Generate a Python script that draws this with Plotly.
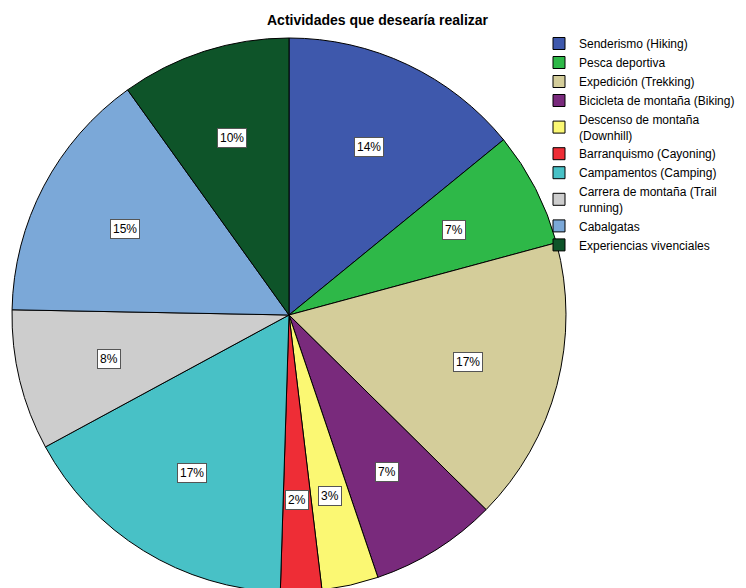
import math
import plotly.graph_objects as go

labels = [
    "Senderismo (Hiking)",
    "Pesca deportiva",
    "Expedición (Trekking)",
    "Bicicleta de montaña (Biking)",
    "Descenso de montaña<br>(Downhill)",
    "Barranquismo (Cayoning)",
    "Campamentos (Camping)",
    "Carrera de montaña (Trail<br>running)",
    "Cabalgatas",
    "Experiencias vivenciales",
]
values = [14.1, 6.7, 16.6, 7.4, 3.3, 2.4, 16.6, 8.2, 14.8, 9.9]
colors = ["#3E58AC", "#2EB848", "#D4CD9A", "#792A7C", "#FBF873",
          "#EE2D36", "#48C1C6", "#CDCDCD", "#7BA8D8", "#0E5429"]

W, H = 746, 588
OFF = 8  # page body margin offset
cx, cy, R = 289 - OFF, 315 - OFF, 277  # pie centre / radius in figure pixels

dom_x = [(cx - R) / W, (cx + R) / W]
dom_y = [max(0, (H - cy - R) / H), (H - cy + R) / H]

fig = go.Figure(go.Pie(
    labels=labels, values=values, sort=False, direction="clockwise", rotation=0,
    marker=dict(colors=colors, line=dict(color="#000000", width=1)),
    textinfo="none", hoverinfo="label+percent",
    domain=dict(x=dom_x, y=dom_y),
))

FONT = "Liberation Sans, Arial, sans-serif"

# percentage labels in white boxes, placed at each slice's mid-angle
total = sum(values)
cum = 0
annots = []
for v in values:
    mid = (cum + v / 2) / total * 2 * math.pi
    cum += v
    px = cx + 0.67 * R * math.sin(mid)
    py = cy - 0.67 * R * math.cos(mid)
    annots.append(dict(
        x=px / W, y=1 - py / H, xref="paper", yref="paper",
        xanchor="center", yanchor="middle",
        text=f"{round(v / total * 100)}%", showarrow=False,
        font=dict(family=FONT, size=12, color="#000"),
        bgcolor="#FFFFFF", bordercolor="#555555", borderwidth=1, borderpad=2,
    ))

annots.append(dict(
    x=(378 - OFF) / W, y=1 - (20 - OFF) / H, xref="paper", yref="paper",
    xanchor="center", yanchor="middle",
    text="<b>Actividades que desearía realizar</b>", showarrow=False,
    font=dict(family=FONT, size=14, color="#000"),
))

fig.update_layout(
    width=W, height=H,
    margin=dict(l=0, r=0, t=0, b=0),
    paper_bgcolor="white", plot_bgcolor="white",
    showlegend=True,
    legend=dict(x=531 / W, y=1 - 21 / H, xanchor="left", yanchor="top",
                font=dict(family=FONT, size=12, color="#000"),
                tracegroupgap=0, itemwidth=30, bgcolor="rgba(0,0,0,0)"),
    annotations=annots,
)

fig.write_html("out.html")
